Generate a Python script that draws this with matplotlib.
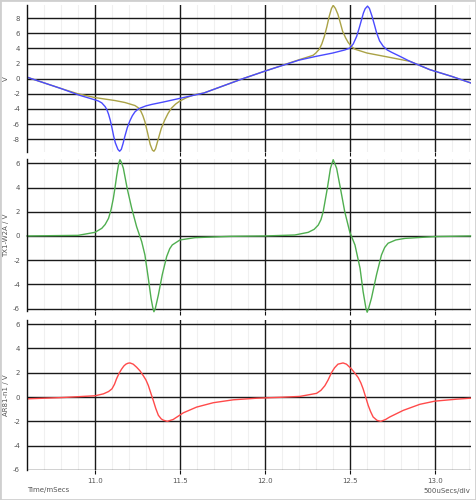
import matplotlib
matplotlib.use("Agg")
import matplotlib.pyplot as plt
from matplotlib.patches import Rectangle
from matplotlib.ticker import MultipleLocator

# ---------------- data ----------------
blue_x = [10.60, 10.80, 10.91, 11.00, 11.02, 11.04, 11.06, 11.07, 11.08, 11.09, 11.10, 11.11,
          11.12, 11.135, 11.145, 11.155, 11.165, 11.175, 11.19, 11.205, 11.22, 11.235, 11.25,
          11.265, 11.30, 11.335, 11.40, 11.50, 11.64, 11.87, 12.00, 12.20, 12.30, 12.40, 12.47,
          12.50, 12.52, 12.54, 12.555, 12.57, 12.58, 12.59, 12.604, 12.615, 12.63, 12.645,
          12.657, 12.675, 12.696, 12.72, 12.745, 12.80, 12.853, 12.97, 13.10, 13.21]
blue_y = [0.20, -1.30, -2.20, -2.80, -2.95, -3.20, -3.70, -4.10, -4.70, -5.50, -6.50, -7.60,
          -8.50, -9.35, -9.60, -9.35, -8.60, -7.70, -6.50, -5.60, -4.90, -4.40, -4.10,
          -3.90, -3.60, -3.40, -3.10, -2.60, -1.90, 0.00, 1.00, 2.45, 2.95, 3.40, 3.80,
          4.05, 4.60, 5.60, 6.70, 7.90, 8.70, 9.25, 9.60, 9.30, 8.30, 7.10,
          6.10, 5.00, 4.30, 3.80, 3.50, 2.90, 2.30, 1.20, 0.30, -0.55]

olive_x = [10.60, 10.80, 10.90, 11.00, 11.06, 11.12, 11.176, 11.235, 11.255, 11.27, 11.282,
           11.294, 11.31, 11.325, 11.338, 11.347, 11.356, 11.366, 11.376, 11.39, 11.41, 11.43,
           11.45, 11.475, 11.50, 11.535, 11.569, 11.60, 11.64, 11.87, 12.00, 12.20, 12.25,
           12.284, 12.30, 12.32, 12.335, 12.35, 12.365, 12.378, 12.392, 12.402, 12.415, 12.43,
           12.445, 12.457, 12.475, 12.49, 12.51, 12.53, 12.60, 12.716, 12.853, 12.97, 13.10, 13.21]
olive_y = [0.20, -1.30, -2.00, -2.50, -2.70, -2.90, -3.15, -3.55, -3.85, -4.30, -4.90,
           -5.70, -7.20, -8.70, -9.45, -9.60, -9.30, -8.50, -7.70, -6.60, -5.50, -4.60,
           -3.90, -3.35, -2.95, -2.55, -2.25, -2.05, -1.90, 0.00, 1.00, 2.50, 2.85,
           3.10, 3.40, 3.90, 4.60, 5.60, 6.90, 8.20, 9.30, 9.70, 9.30, 8.50,
           7.30, 6.30, 5.40, 4.80, 4.25, 3.90, 3.40, 2.90, 2.30, 1.20, 0.30, -0.55]

green_x = [10.60, 10.90, 11.00, 11.04, 11.06, 11.08, 11.095, 11.108, 11.118, 11.128, 11.14,
           11.147, 11.155, 11.167, 11.19, 11.216, 11.245, 11.275, 11.294, 11.314, 11.33, 11.34,
           11.347, 11.355, 11.373, 11.396, 11.422, 11.44, 11.455, 11.50, 11.588, 11.80, 12.00,
           12.176, 12.255, 12.29, 12.314, 12.33, 12.343, 12.367, 12.386, 12.402, 12.422, 12.445,
           12.47, 12.50, 12.53, 12.56, 12.578, 12.595, 12.602, 12.61, 12.627, 12.657, 12.686,
           12.705, 12.725, 12.77, 12.824, 13.00, 13.21]
green_y = [0.00, 0.05, 0.30, 0.63, 0.95, 1.46, 2.20, 3.10, 4.00, 5.00, 6.00,
           6.30, 6.10, 5.60, 3.90, 2.30, 0.77, -0.47, -1.57, -3.50, -5.15, -5.90,
           -6.26, -6.00, -4.88, -3.20, -1.70, -1.05, -0.74, -0.33, -0.14, -0.03, 0.00,
           0.08, 0.30, 0.55, 0.90, 1.35, 2.00, 3.90, 5.60, 6.30, 5.60, 3.90,
           2.00, 0.30, -0.74, -2.67, -4.60, -6.00, -6.30, -6.00, -5.15, -3.20, -1.57,
           -0.95, -0.60, -0.33, -0.20, -0.05, 0.00]

red_x = [10.60, 10.80, 11.00, 11.05, 11.08, 11.10, 11.115, 11.127, 11.142, 11.157, 11.17, 11.182,
         11.195, 11.206, 11.225, 11.245, 11.265, 11.284, 11.30, 11.314, 11.328, 11.343, 11.358,
         11.373, 11.39, 11.402, 11.425, 11.46, 11.52, 11.598, 11.696, 11.814, 11.951, 12.10,
         12.206, 12.304, 12.33, 12.353, 12.372, 12.392, 12.41, 12.43, 12.46, 12.48, 12.51,
         12.53, 12.549, 12.565, 12.578, 12.593, 12.608, 12.622, 12.637, 12.66, 12.682, 12.71,
         12.735, 12.814, 12.912, 13.00, 13.127, 13.21]
red_y = [-0.15, -0.05, 0.10, 0.26, 0.45, 0.67, 1.05, 1.50, 1.95, 2.30, 2.55, 2.70,
         2.78, 2.80, 2.70, 2.45, 2.15, 1.76, 1.40, 0.95, 0.35, -0.28, -0.95,
         -1.50, -1.80, -1.90, -2.00, -1.85, -1.30, -0.83, -0.47, -0.23, -0.10, -0.02,
         0.05, 0.30, 0.55, 0.93, 1.40, 2.00, 2.40, 2.70, 2.80, 2.70, 2.30,
         1.95, 1.60, 1.15, 0.67, 0.00, -0.69, -1.20, -1.64, -1.92, -2.00, -1.85,
         -1.64, -1.10, -0.60, -0.34, -0.18, -0.10]

panel_labels = ["V", "TX1-W2A / V", "AR81-n1 / V"]
x_ticks = [11.0, 11.5, 12.0, 12.5, 13.0]
x_tick_labels = ["11.0", "11.5", "12.0", "12.5", "13.0"]
y_ticks_1 = [-8, -6, -4, -2, 0, 2, 4, 6, 8]
y_ticks_2 = [-6, -4, -2, 0, 2, 4, 6]
y_ticks_3 = [-6, -4, -2, 0, 2, 4, 6]

# ---------------- figure ----------------
plt.rcParams['font.family'] = ['DejaVu Sans']
fig = plt.figure(figsize=(4.76, 5.0), dpi=100)
fig.patch.set_facecolor("white")

W, H = 476.0, 500.0
left, right = 27 / W, 470.5 / W


def ax_at(top_px, bot_px):
    return fig.add_axes([left, 1 - bot_px / H, right - left, (bot_px - top_px) / H])


ax1 = ax_at(5, 152)
ax2 = ax_at(159, 311)
ax3 = ax_at(320, 470)

specs = [
    (ax1, (-9.7, 9.75), y_ticks_1),
    (ax2, (-6.2, 6.36), y_ticks_2),
    (ax3, (-6.0, 6.33), y_ticks_3),
]

for (ax, ylim, yt), lab in zip(specs, panel_labels):
    ax.set_xlim(10.6, 13.21)
    ax.set_ylim(*ylim)
    ax.set_xticks(x_ticks)
    ax.xaxis.set_minor_locator(MultipleLocator(0.1))
    ax.set_yticks(yt)
    ax.set_yticklabels([str(v) for v in yt])
    ax.grid(which="major", axis="both", color="#1a1a1a", linewidth=1.0)
    ax.grid(which="minor", axis="x", color="#f0f0f0", linewidth=0.8)
    ax.set_axisbelow(True)
    for s in ["top", "right", "bottom"]:
        ax.spines[s].set_visible(False)
    ax.spines["left"].set_color("#111111")
    ax.spines["left"].set_linewidth(1.0)
    ax.tick_params(axis="y", which="both", length=0, labelsize=5, labelcolor="#555555", pad=5)
    ax.tick_params(axis="x", which="major", length=3, width=0.8, color="#111111",
                   labelsize=5, labelcolor="#555555", pad=3)
    ax.tick_params(axis="x", which="minor", length=0)
    ax.set_ylabel(lab, fontsize=5, color="#555555", labelpad=3)
    ax.set_facecolor("white")

ax1.tick_params(axis="x", labelbottom=False)
ax2.tick_params(axis="x", labelbottom=False)
ax3.set_xticklabels(x_tick_labels)

ax1.plot(olive_x, olive_y, color="#aaa246", linewidth=1.0)
ax1.plot(blue_x, blue_y, color="#4a4aff", linewidth=1.0)
ax2.plot(green_x, green_y, color="#4fae4f", linewidth=1.0, clip_on=False)
ax3.plot(red_x, red_y, color="#ff4a4a", linewidth=1.0)

fig.text(27 / W, 1 - 490 / H, "Time/mSecs", fontsize=5, color="#555555",
         ha="left", va="center")
fig.text(470 / W, 1 - 491 / H, "500uSecs/div", fontsize=5, color="#555555",
         ha="right", va="center")

fig.patches.append(Rectangle((0, 0), 1, 1, transform=fig.transFigure, fill=False,
                             edgecolor="#cfcfcf", linewidth=2.0))

fig.savefig("out.png", dpi=100, facecolor="white")
